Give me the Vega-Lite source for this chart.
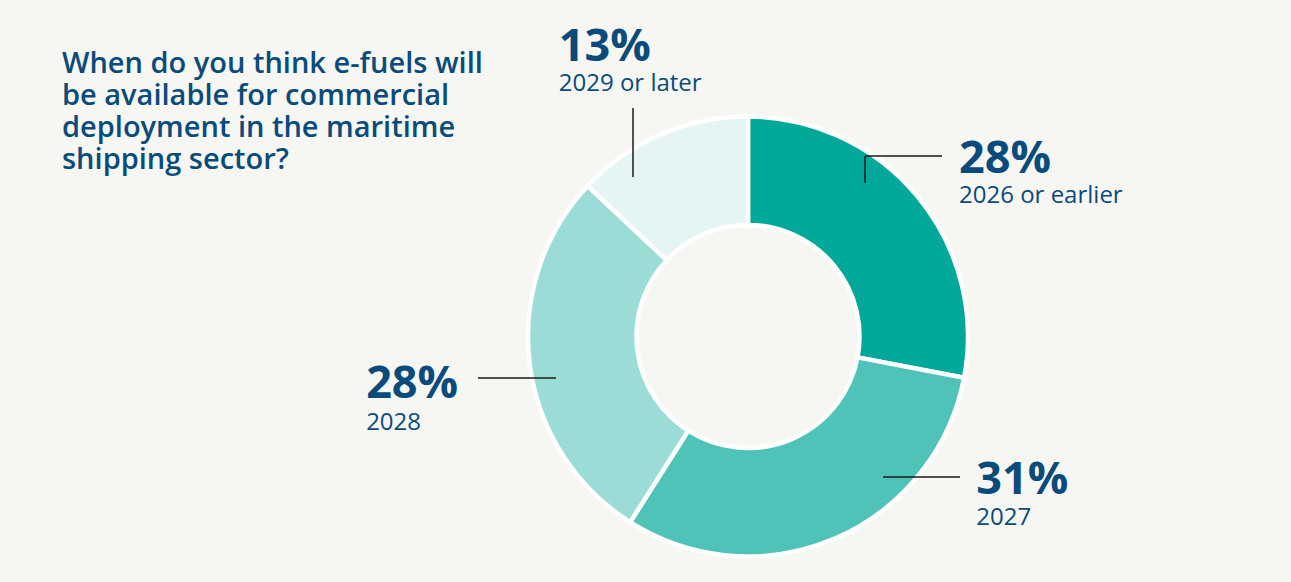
{
  "$schema": "https://vega.github.io/schema/vega-lite/v6.json",
  "width": 1076,
  "height": 481,
  "autosize": {"type": "none"},
  "padding": {"left": 210, "top": 96, "right": 5, "bottom": 5},
  "background": "#f6f6f2",
  "config": {"view": {"stroke": null}},
  "title": {
    "text": ["When do you think e-fuels will", "be available for commercial", "deployment in the maritime", "shipping sector?"],
    "anchor": "start",
    "frame": "group",
    "orient": "top",
    "baseline": "alphabetic",
    "dx": -148,
    "offset": -236,
    "font": "Open Sans",
    "fontSize": 29,
    "fontWeight": 600,
    "color": "#0a4b7c",
    "lineHeight": 32.2
  },
  "data": {
    "values": [
      {"period": "2026 or earlier", "share": 28, "label": "28%", "order": 1},
      {"period": "2027", "share": 31, "label": "31%", "order": 2},
      {"period": "2028", "share": 28, "label": "28%", "order": 3},
      {"period": "2029 or later", "share": 13, "label": "13%", "order": 4}
    ]
  },
  "layer": [
    {
      "encoding": {
        "theta": {"field": "share", "type": "quantitative", "stack": true},
        "order": {"field": "order", "type": "quantitative"}
      },
      "layer": [
        {
          "mark": {"type": "arc", "outerRadius": 220, "innerRadius": 111.5, "stroke": "#ffffff", "strokeWidth": 4.5},
          "encoding": {
            "color": {
              "field": "period", "type": "nominal", "legend": null,
              "scale": {"domain": ["2026 or earlier", "2027", "2028", "2029 or later"], "range": ["#02a99a", "#4fc3b7", "#9bddd6", "#e5f5f3"]}
            }
          }
        },
        {
          "mark": {"type": "text", "radius": 270, "align": "left", "baseline": "alphabetic", "dx": 3, "dy": 8.6, "font": "Open Sans", "fontWeight": 700, "fontSize": 45, "color": "#0a4b7c"},
          "encoding": {"text": {"condition": {"test": "datum.order === 1", "field": "label"}, "value": ""}}
        },
        {
          "mark": {"type": "text", "radius": 270, "align": "left", "baseline": "alphabetic", "dx": 3, "dy": 38.6, "font": "Open Sans", "fontWeight": 400, "fontSize": 24, "color": "#0a4b7c"},
          "encoding": {"text": {"condition": {"test": "datum.order === 1", "field": "period"}, "value": ""}}
        },
        {
          "mark": {"type": "text", "radius": 270, "align": "left", "baseline": "alphabetic", "dx": 121, "dy": -90.3, "font": "Open Sans", "fontWeight": 700, "fontSize": 45, "color": "#0a4b7c"},
          "encoding": {"text": {"condition": {"test": "datum.order === 2", "field": "label"}, "value": ""}}
        },
        {
          "mark": {"type": "text", "radius": 270, "align": "left", "baseline": "alphabetic", "dx": 121, "dy": -59.3, "font": "Open Sans", "fontWeight": 400, "fontSize": 24, "color": "#0a4b7c"},
          "encoding": {"text": {"condition": {"test": "datum.order === 2", "field": "period"}, "value": ""}}
        },
        {
          "mark": {"type": "text", "radius": 270, "align": "left", "baseline": "alphabetic", "dx": -114, "dy": 27.7, "font": "Open Sans", "fontWeight": 700, "fontSize": 45, "color": "#0a4b7c"},
          "encoding": {"text": {"condition": {"test": "datum.order === 3", "field": "label"}, "value": ""}}
        },
        {
          "mark": {"type": "text", "radius": 270, "align": "left", "baseline": "alphabetic", "dx": -114, "dy": 59.7, "font": "Open Sans", "fontWeight": 400, "fontSize": 24, "color": "#0a4b7c"},
          "encoding": {"text": {"condition": {"test": "datum.order === 3", "field": "period"}, "value": ""}}
        },
        {
          "mark": {"type": "text", "radius": 270, "align": "left", "baseline": "alphabetic", "dx": -82, "dy": -27.7, "font": "Open Sans", "fontWeight": 700, "fontSize": 45, "color": "#0a4b7c"},
          "encoding": {"text": {"condition": {"test": "datum.order === 4", "field": "label"}, "value": ""}}
        },
        {
          "mark": {"type": "text", "radius": 270, "align": "left", "baseline": "alphabetic", "dx": -82, "dy": 2.3, "font": "Open Sans", "fontWeight": 400, "fontSize": 24, "color": "#0a4b7c"},
          "encoding": {"text": {"condition": {"test": "datum.order === 4", "field": "period"}, "value": ""}}
        }
      ]
    },
    {
      "data": {"values": [{}]},
      "mark": {"type": "rule", "color": "#1a1a1a", "strokeWidth": 1.5},
      "encoding": {"x": {"value": 655}, "x2": {"value": 732}, "y": {"value": 60}, "y2": {"value": 60}}
    },
    {
      "data": {"values": [{}]},
      "mark": {"type": "rule", "color": "#1a1a1a", "strokeWidth": 1.5},
      "encoding": {"x": {"value": 655}, "x2": {"value": 655}, "y": {"value": 60}, "y2": {"value": 87}}
    },
    {
      "data": {"values": [{}]},
      "mark": {"type": "rule", "color": "#1a1a1a", "strokeWidth": 1.5},
      "encoding": {"x": {"value": 673}, "x2": {"value": 750}, "y": {"value": 381}, "y2": {"value": 381}}
    },
    {
      "data": {"values": [{}]},
      "mark": {"type": "rule", "color": "#1a1a1a", "strokeWidth": 1.5},
      "encoding": {"x": {"value": 268}, "x2": {"value": 346}, "y": {"value": 282}, "y2": {"value": 282}}
    },
    {
      "data": {"values": [{}]},
      "mark": {"type": "rule", "color": "#1a1a1a", "strokeWidth": 1.5},
      "encoding": {"x": {"value": 423}, "x2": {"value": 423}, "y": {"value": 12}, "y2": {"value": 81}}
    }
  ]
}
